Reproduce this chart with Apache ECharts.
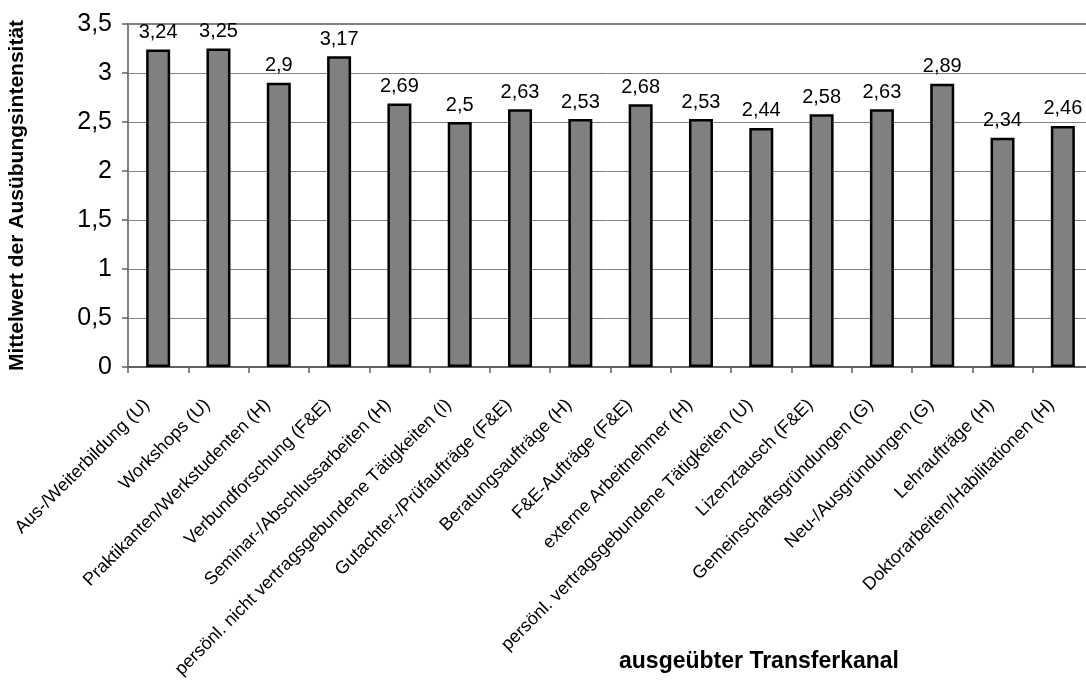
<!DOCTYPE html>
<html>
<head>
<meta charset="utf-8">
<script src="https://cdn.jsdelivr.net/npm/echarts@6/dist/echarts.min.js"></script>
<style>html,body{margin:0;padding:0;background:#fff}#c{width:1086px;height:680px}</style>
</head>
<body>
<div id="c"></div>
<script>
const categories = [
  "Aus-/Weiterbildung (U)",
  "Workshops (U)",
  "Praktikanten/Werkstudenten (H)",
  "Verbundforschung (F&E)",
  "Seminar-/Abschlussarbeiten (H)",
  "persönl. nicht vertragsgebundene Tätigkeiten (I)",
  "Gutachter-/Prüfaufträge (F&E)",
  "Beratungsaufträge (H)",
  "F&E-Aufträge (F&E)",
  "externe Arbeitnehmer (H)",
  "persönl. vertragsgebundene Tätigkeiten (U)",
  "Lizenztausch (F&E)",
  "Gemeinschaftsgründungen (G)",
  "Neu-/Ausgründungen (G)",
  "Lehraufträge (H)",
  "Doktorarbeiten/Habilitationen (H)"
];
const values = [3.24, 3.25, 2.9, 3.17, 2.69, 2.5, 2.63, 2.53, 2.68, 2.53, 2.44, 2.58, 2.63, 2.89, 2.34, 2.46];
const yTicks = [0, 0.5, 1, 1.5, 2, 2.5, 3, 3.5];

const fmt = v => String(v).replace('.', ',');
const chart = echarts.init(document.getElementById('c'));
chart.setOption({
  animation: false,
  backgroundColor: '#ffffff',
  textStyle: { fontFamily: 'Liberation Sans, Arial, sans-serif' },
  grid: { left: 128, top: 24, width: 965, height: 343, containLabel: false, outerBoundsMode: 'none',
          show: true, borderColor: '#808080', borderWidth: 2, backgroundColor: 'transparent' },
  xAxis: {
    type: 'category',
    data: categories,
    name: 'ausgeübter Transferkanal',
    nameLocation: 'middle',
    nameGap: 283,
    nameMoveOverlap: false,
    nameTextStyle: { fontSize: 23, fontWeight: 'bold', color: '#000', padding: [0, 0, 0, 297] },
    axisLine: { lineStyle: { color: '#606060', width: 2 } },
    axisTick: { show: true, length: 6, lineStyle: { color: '#606060', width: 1.5 } },
    axisLabel: { rotate: 45, interval: 0, fontSize: 18, color: '#000', margin: 24, padding: [0, 16, 0, 0] },
    splitLine: { show: false }
  },
  yAxis: {
    type: 'value',
    min: yTicks[0],
    max: yTicks[yTicks.length - 1],
    interval: 0.5,
    name: 'Mittelwert der Ausübungsintensität',
    nameLocation: 'middle',
    nameGap: 100,
    nameMoveOverlap: false,
    nameTextStyle: { fontSize: 21, fontWeight: 'bold', color: '#000' },
    axisLine: { show: true, lineStyle: { color: '#808080', width: 1.5 } },
    axisTick: { show: true, length: 6, lineStyle: { color: '#606060', width: 1.5 } },
    axisLabel: { fontSize: 25, color: '#000', margin: 16, formatter: v => fmt(v) },
    splitLine: { show: true, lineStyle: { color: '#808080', width: 1 } }
  },
  series: [{
    type: 'bar',
    data: values,
    barWidth: 24,
    itemStyle: { color: '#808080', borderColor: '#000', borderWidth: 2.5 },
    label: { show: true, position: 'top', distance: 7, fontSize: 20, color: '#000', formatter: p => fmt(p.value) }
  }]
});
</script>
</body>
</html>
